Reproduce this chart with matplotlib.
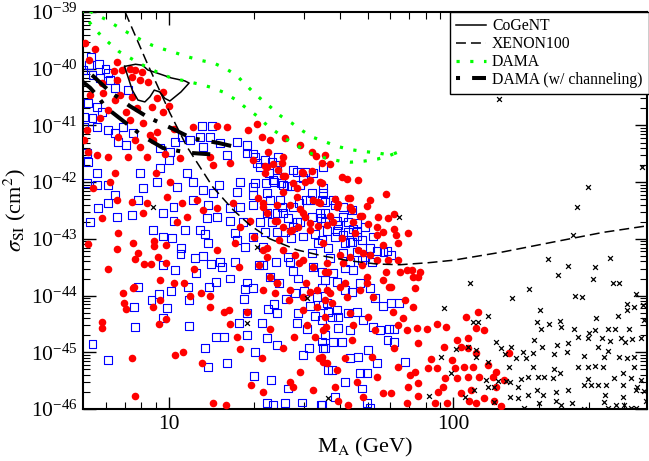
import matplotlib
matplotlib.use('Agg')
import numpy as np
import matplotlib.pyplot as plt
from matplotlib import ticker

plt.rcParams['font.family'] = 'serif'
plt.rcParams['font.serif'] = ['Liberation Serif', 'DejaVu Serif']
plt.rcParams['mathtext.fontset'] = 'stix'

# (mass GeV, sigma_SI cm^2)
red_points = [
    (5.1, 2.8e-40), (5.5, 2.2e-40), (5.25, 1.4e-40), (6.6, 1.3e-40), (6.4, 9.1e-41), (6.85, 9.5e-41),
    (7.3, 1.0e-40), (7.6, 9.5e-41), (8.05, 8.7e-41), (7.45, 7.1e-41), (7.95, 6.3e-41), (8.45, 5.8e-41),
    (9.55, 3.9e-41), (6.6, 6.3e-41), (5.85, 5.6e-41), (5.3, 3.4e-41), (5.9, 3.7e-41), (6.5, 2.8e-41),
    (6.75, 3.4e-41), (7.45, 3.2e-41), (9.1, 3.1e-41), (8.75, 2.1e-41), (9.55, 1.7e-41), (10, 2.2e-41),
    (6.1, 1.9e-41), (5.75, 1.35e-41), (7.1, 1.7e-41), (7.75, 2.0e-41), (7.3, 1.25e-41), (8.1, 1.1e-41),
    (9.1, 7.6e-42), (8.6, 6.8e-42), (8.8, 5.5e-42), (10.4, 8.6e-42), (12.2, 9.4e-42), (14.8, 9.8e-42),
    (16.0, 9.4e-42), (20.5, 1.06e-41), (19.0, 8.3e-42), (21.3, 6.2e-42), (22.7, 5.5e-42), (25.6, 6.0e-42),
    (29.0, 4.5e-42), (31.9, 3.4e-42), (35.4, 3.0e-42), (5.15, 8.3e-42), (5.05, 5.5e-42), (5.2, 3.4e-42),
    (5.6, 3.0e-42), (6.1, 2.8e-42), (6.65, 6.2e-42), (7.6, 5.5e-42), (7.95, 4.2e-42), (7.2, 2.8e-42),
    (8.4, 2.8e-42), (9.7, 3.1e-42), (9.0, 1.45e-42), (11.0, 2.7e-42), (14.0, 2.8e-42), (14.3, 2.0e-42),
    (16.45, 2.2e-42), (19.8, 2.45e-42), (22.2, 1.85e-42), (25.0, 2.2e-42), (25.6, 1.3e-42), (29.4, 1.5e-42),
    (34.0, 1.0e-42), (6.5, 1.45e-42), (6.2, 1.0e-42), (32.9, 2.9e-42),
    (6.6, 4.8e-43), (5.4, 7.9e-43), (7.45, 4.5e-43), (8.1, 2.85e-43), (8.4, 4.3e-43), (10.1, 1.0e-42),
    (9.9, 5.5e-43), (11.1, 4.3e-43), (12.6, 4.8e-43), (11.6, 2.4e-43), (13.2, 3.2e-43), (14.8, 3.5e-43),
    (16.9, 4.3e-43), (19.3, 2.1e-43), (21.5, 3.6e-43), (24.0, 2.1e-43), (26.7, 1.4e-43), (29.6, 2.85e-43),
    (31.4, 1.9e-43), (34.0, 4.3e-43), (5.85, 2.3e-43), (10.7, 2.0e-43), (17.8, 1.6e-43),
    (5.2, 8.1e-44), (6.6, 6.6e-44), (6.65, 1.26e-43), (7.5, 8.4e-44), (7.6, 4.4e-44), (7.8, 5.6e-44),
    (8.2, 3.6e-44), (8.7, 3.6e-44), (8.9, 7.5e-44), (8.9, 9.1e-44), (9.8, 3.7e-44), (9.8, 7.8e-44),
    (9.2, 4.8e-44), (6.1, 2.9e-44), (6.9, 1.1e-44), (6.95, 7.4e-45), (7.1, 5.8e-45), (7.55, 1.4e-44),
    (5.85, 3.4e-45), (5.85, 2.7e-45), (9.3, 1.9e-44), (9.3, 8.3e-45), (9.25, 3.1e-45), (8.8, 6.3e-45),
    (9.8, 3.9e-45), (10.45, 1.65e-44), (10.5, 8.9e-46), (11.2, 1.0e-45), (11.3, 1.65e-44), (11.9, 1.0e-44),
    (12.3, 3.0e-44), (13.0, 1.1e-44), (13.1, 6.4e-46), (14.0, 1.0e-44), (14.0, 6.3e-45), (14.3, 1.27e-46),
    (14.8, 6.3e-44), (15.7, 5.1e-45), (15.9, 1.2e-46), (16.45, 3.1e-45), (16.3, 5.5e-45), (17.1, 8.4e-44),
    (17.4, 1.85e-45), (17.8, 1.14e-45), (17.7, 3.2e-44), (18.9, 5.1e-45), (19.5, 2.6e-46), (20.0, 1.1e-43),
    (20.8, 3.45e-44), (21.3, 7.9e-46), (21.5, 2.0e-46), (22.2, 6.9e-44), (22.2, 4.8e-44), (22.7, 2.6e-45),
    (23.6, 1.1e-44), (24.0, 1.7e-44), (24.4, 9.5e-44), (25.2, 1.2e-45), (26.7, 3.0e-46), (26.5, 8.3e-45),
    (27.3, 2.4e-46), (27.6, 1.85e-45), (27.8, 5.2e-44), (28.7, 3.7e-44), (29.0, 4.5e-46), (30.6, 3.0e-45),
    (29.6, 5.5e-45), (30.4, 1.65e-44), (31.4, 1.15e-44), (32.1, 2.15e-46), (32.7, 1.85e-45), (33.2, 6.3e-45),
    (33.7, 7.9e-46), (34.8, 6.7e-46), (35.4, 8.3e-45), (35.7, 2.8e-45), (36.3, 2.6e-44), (7.6, 1.7e-46),
    (7.45, 7.9e-46), (7.5, 1.35e-44),
    (34.8, 8.4e-44), (35.4, 2.6e-44), (36.0, 1.25e-44), (37.5, 7.4e-45), (35.4, 4.2e-45), (34.8, 2.45e-45),
    (34.6, 8.2e-46), (36.0, 6.4e-46), (39.0, 4.9e-46), (38.4, 2.4e-46), (39.3, 1.4e-46), (40.6, 1.03e-43),
    (40.0, 5.2e-44), (40.9, 3.7e-44), (41.6, 1.65e-44), (42.2, 9.4e-45), (43.3, 4.9e-45), (44.4, 3.0e-45),
    (44.0, 1.65e-45), (41.6, 7.9e-46), (45.8, 3.0e-46), (48.2, 1.6e-46), (42.6, 1.17e-46), (45.1, 1.26e-43),
    (46.2, 6.3e-44), (47.8, 3.45e-44), (49.8, 2.1e-44), (51.0, 5.2e-44), (52.3, 9.4e-45), (50.2, 4.2e-45),
    (53.2, 2.45e-45), (51.9, 8.2e-46), (54.1, 3.65e-46), (56.5, 1.9e-46), (54.1, 1.16e-43), (56.5, 7.8e-44),
    (58.8, 4.2e-44), (57.9, 2.6e-44), (59.3, 1.4e-44), (61.3, 5.1e-45), (63.9, 3.0e-45), (61.8, 1.2e-45),
    (63.9, 5.5e-46), (60.3, 1.9e-46), (62.8, 1.16e-43), (63.9, 8.4e-44), (65.0, 2.6e-44), (67.6, 8.3e-45),
    (66.6, 4.0e-45), (68.8, 2.45e-45), (70.4, 3.95e-46), (69.3, 2.4e-46), (68.8, 1.27e-46), (69.3, 1.26e-43),
    (71.6, 2.8e-44), (75.1, 2.1e-44), (76.3, 2.6e-44), (73.3, 1.35e-44), (72.2, 6.3e-45), (74.5, 2.7e-45),
    (75.1, 1.45e-45), (73.3, 4.5e-46), (75.1, 2.85e-46), (75.1, 1.7e-46),
    (81.1, 2.6e-45), (87.5, 3.1e-45), (94.3, 2.8e-45), (92.8, 1.23e-45), (83.8, 7.6e-46), (81.8, 5.3e-46),
    (87.5, 5.3e-46), (99.2, 7.3e-46), (101.7, 5.3e-46), (108.8, 5.5e-46), (112.4, 3.65e-46), (103.4, 3.5e-46),
    (93.5, 3.5e-46), (92.0, 2.4e-46), (88.2, 2.0e-46), (106.2, 1.9e-46), (115.2, 2.15e-46), (86.0, 1.27e-46),
    (95.1, 1.27e-46), (113.3, 1.4e-46), (119.9, 1.27e-46), (128.1, 1.55e-46), (139.0, 1.4e-46), (147.3, 1.13e-46),
    (141.3, 2.4e-46), (137.9, 3.65e-46), (122.9, 3.65e-46), (117.0, 5.5e-46), (119.9, 9.7e-46), (112.4, 1.2e-45),
    (106.2, 1.23e-45), (112.4, 1.8e-45), (119.9, 2.7e-45), (128.1, 2.45e-45), (121.9, 5.1e-45), (110.6, 4.2e-45),
    (103.4, 1.65e-45), (132.4, 5.9e-46), (141.3, 4.5e-46), (150.9, 3.2e-46), (157.1, 9.7e-46),
    (34.6, 2.2e-42), (36.9, 2.1e-42), (40.6, 1.23e-42), (42.2, 1.13e-42), (46.2, 1.1e-42), (34.6, 9.6e-43),
    (57.9, 6.2e-43), (43.3, 5.2e-43), (51.0, 4.8e-43), (49.8, 3.8e-43), (39.0, 3.7e-43), (43.3, 3.7e-43),
    (47.8, 2.5e-43), (54.6, 2.4e-43), (58.8, 2.3e-43), (61.8, 2.7e-43), (36.9, 2.5e-43), (37.8, 2.0e-43),
    (44.4, 2.0e-43), (50.2, 1.8e-43), (54.1, 1.6e-43), (56.9, 1.3e-43), (61.8, 1.5e-43),
    (22.3, 3.4e-42), (25.2, 2.8e-42), (21.8, 1.9e-42), (23.3, 2.1e-42), (21.8, 1.45e-42), (24.2, 1.65e-42),
    (25.2, 1.3e-42), (27.3, 9.6e-43), (29.6, 1.45e-42), (31.9, 1.55e-42), (30.1, 1.0e-42), (31.4, 1.08e-42),
    (25.2, 6.7e-43), (28.2, 7.9e-43), (28.2, 5.5e-43), (32.1, 4.8e-43), (33.5, 4.4e-43), (38.4, 5.0e-43),
    (39.3, 4.1e-43), (42.6, 5.2e-43), (44.0, 3.2e-43), (47.0, 2.5e-43), (20.6, 5.2e-43), (21.5, 4.3e-43),
    (22.2, 2.85e-43), (24.0, 3.9e-43), (26.7, 3.9e-43), (29.0, 3.3e-43), (30.1, 2.4e-43), (23.6, 2.1e-43),
    (25.2, 1.6e-43), (27.1, 1.45e-43), (28.5, 1.6e-43), (31.4, 1.45e-43), (33.5, 1.7e-43), (36.0, 1.75e-43),
    (21.5, 6.3e-44), (25.2, 6.3e-44), (29.6, 4.2e-44), (32.1, 3.2e-44), (36.0, 3.7e-44), (43.3, 4.8e-44),
    (48.2, 5.6e-44), (54.1, 4.2e-44), (63.9, 4.2e-44), (68.8, 2.8e-44), (72.2, 2.1e-44), (56.9, 1.9e-44),
    (60.3, 1.4e-44), (49.8, 1.65e-44), (47.0, 1.25e-44), (40.0, 1.4e-44), (36.9, 1.1e-44), (33.2, 1.25e-44),
    (29.6, 9.4e-45), (26.7, 1.25e-44), (24.0, 1.65e-44), (21.5, 1.25e-44), (22.7, 2.1e-44),
]

blue_points = [
    (5.35, 1.6e-40), (5.7, 1.2e-40), (6.0, 1.0e-40), (5.0, 9.5e-41), (5.25, 1.15e-40), (5.4, 7.7e-41),
    (5.75, 6.9e-41), (6.2, 6.3e-41), (6.1, 8.4e-41), (6.5, 4.6e-41), (7.2, 4.2e-41), (5.2, 2.5e-41),
    (5.6, 2.1e-41), (5.85, 1.7e-41), (5.05, 1.4e-41), (5.4, 1.35e-41), (5.05, 9.4e-42), (5.6, 9.4e-42),
    (6.1, 8.3e-42), (6.5, 7.3e-42), (6.9, 9.4e-42), (7.5, 7.3e-42), (6.65, 5.1e-42), (7.1, 4.5e-42),
    (5.15, 3.3e-42), (5.2, 2.25e-42), (5.6, 1.45e-42), (5.15, 9.6e-43), (5.6, 8.9e-43), (6.1, 8.9e-43),
    (6.5, 5.9e-43), (6.1, 4.3e-43), (5.65, 3.5e-43), (5.3, 2.0e-43), (6.6, 2.4e-43), (7.45, 2.6e-43),
    (7.8, 4.8e-43), (8.1, 7.9e-43), (9.1, 1.0e-42), (7.95, 1.45e-42), (9.3, 1.77e-42), (10, 2.45e-42),
    (10.1, 3.4e-42), (10.5, 5.1e-42), (9.3, 4.0e-42), (11.1, 6.2e-42), (11.9, 5.5e-42), (13.1, 9.8e-42),
    (14.2, 9.8e-42), (12.9, 6.2e-42), (14.0, 6.2e-42), (13.2, 4.2e-42), (15.2, 4.9e-42), (17.4, 5.1e-42),
    (18.9, 4.5e-42), (18.9, 3.2e-42), (16.0, 3.0e-42), (20.1, 2.8e-42), (21.0, 1.85e-42), (23.1, 2.25e-42),
    (24.2, 2.8e-42), (27.3, 1.64e-42), (32.1, 1.45e-42), (34.8, 1.85e-42), (29.0, 8.9e-43), (31.4, 4.8e-43),
    (34.6, 4.8e-43), (25.2, 8.9e-43), (23.3, 1.08e-42), (24.6, 4.8e-43), (22.2, 6.4e-43), (19.8, 8.2e-43),
    (17.8, 1.0e-42), (17.4, 6.7e-43), (15.0, 8.9e-43), (14.3, 6.4e-43), (13.2, 7.2e-43), (12.2, 1.0e-42),
    (11.6, 1.45e-42), (10.7, 8.2e-43), (12.2, 4.8e-43), (13.75, 3.9e-43), (16.45, 3.5e-43), (17.8, 3.6e-43),
    (19.8, 3.9e-43), (22.2, 2.85e-43), (23.1, 2.0e-43), (25.2, 2.85e-43), (27.3, 3.6e-43), (29.0, 2.0e-43),
    (31.9, 2.4e-43), (34.0, 2.85e-43), (35.4, 2.0e-43), (9.55, 2.85e-43), (10.4, 3.6e-43), (10.4, 2.1e-43),
    (13.65, 2.3e-43), (14.8, 2.4e-43), (16.45, 2.1e-43), (18.3, 2.0e-43), (24.0, 1.3e-43), (12.9, 1.45e-43),
    (11.4, 1.45e-43), (17.1, 1.26e-43), (8.8, 1.45e-43),
    (5.4, 1.4e-45), (6.1, 7.3e-46), (7.8, 1.4e-44), (7.55, 6.3e-45), (7.6, 2.8e-45), (8.7, 8.3e-45),
    (9.25, 1.06e-44), (9.55, 4.0e-45), (9.9, 6.0e-45), (9.55, 3.45e-44), (10.2, 1.2e-44), (9.55, 1.1e-43),
    (10.3, 1.05e-43), (11.05, 6.9e-44), (11.0, 5.4e-44), (10.5, 2.8e-44), (11.7, 1.4e-44), (11.8, 8.3e-45),
    (11.8, 2.9e-45), (12.4, 4.6e-44), (12.5, 2.5e-44), (13.4, 1.2e-43), (13.2, 5.0e-44), (13.4, 1.2e-45),
    (13.75, 8.4e-44), (13.9, 1.4e-44), (14.1, 3.6e-44), (13.75, 5.5e-46), (14.7, 1.75e-44), (14.7, 1.85e-45),
    (15.2, 3.9e-44), (15.4, 3.2e-44), (15.7, 1.85e-45), (16.0, 6.4e-46), (16.45, 2.0e-44), (17.1, 3.9e-44),
    (17.4, 9.5e-44), (17.7, 3.3e-45), (18.6, 7.2e-44), (18.6, 1.3e-44), (18.4, 8.7e-45), (18.9, 4.9e-45),
    (18.9, 2.0e-45), (18.9, 1.7e-44), (19.8, 1.35e-44), (20.0, 3.8e-46), (20.1, 1.0e-45), (20.8, 3.45e-44),
    (21.3, 3.3e-45), (21.5, 7.2e-44), (22.2, 1.8e-45), (22.2, 1.27e-46), (22.3, 5.8e-45), (22.9, 3.2e-46),
    (22.7, 2.1e-44), (23.3, 1.2e-46), (23.4, 7.1e-45), (23.8, 3.9e-44), (24.0, 4.9e-45), (24.0, 1.34e-45),
    (24.4, 1.65e-44), (25.6, 1.27e-46), (25.8, 8.7e-45), (26.3, 2.3e-46), (26.7, 3.9e-44), (26.9, 1.03e-43),
    (27.3, 2.7e-44), (27.8, 1.1e-44), (28.2, 3.3e-45), (28.5, 4.9e-45), (28.5, 2.0e-44), (29.4, 1.3e-46),
    (29.6, 8.9e-46), (29.9, 1.2e-44), (30.6, 2.6e-45), (31.1, 1.2e-45), (31.4, 6.5e-45), (31.9, 5.6e-44),
    (32.1, 3.2e-44), (32.7, 4.3e-45), (33.2, 9.4e-45), (33.5, 8.4e-44), (34.3, 1.2e-46), (34.6, 1.35e-44),
    (34.8, 6.8e-45), (35.4, 2.0e-45), (35.4, 1.2e-45), (36.3, 4.9e-46), (36.9, 4.6e-44), (36.3, 5.1e-45),
    (34.8, 7.9e-43), (34.8, 6.4e-43), (37.8, 4.8e-43), (38.4, 3.9e-43), (40.9, 3.6e-43), (44.0, 3.2e-43),
    (35.4, 2.85e-43), (40.9, 2.4e-43), (39.3, 1.75e-43), (42.6, 2.0e-43), (45.8, 1.9e-43), (49.0, 1.6e-43),
    (36.0, 1.4e-43), (42.6, 1.3e-43), (45.8, 1.3e-43), (52.3, 1.1e-43),
    (34.6, 9.5e-44), (36.3, 6.9e-44), (38.4, 1.07e-43), (41.6, 8.4e-44), (44.0, 8.7e-44), (47.8, 9.5e-44),
    (51.0, 6.9e-44), (40.9, 5.6e-44), (43.3, 3.9e-44), (45.8, 5.8e-44), (34.6, 2.6e-44), (37.8, 2.5e-44),
    (41.6, 3.0e-44), (44.4, 2.8e-44), (47.8, 4.2e-44), (51.9, 3.9e-44), (60.3, 5.2e-44), (56.9, 5.8e-44),
    (35.4, 1.9e-44), (39.0, 1.75e-44), (41.6, 1.25e-44), (44.0, 1.15e-44), (47.0, 1.65e-44), (51.0, 1.35e-44),
    (53.2, 9.0e-45), (56.5, 6.5e-45), (60.3, 7.4e-45), (64.4, 7.4e-45), (36.0, 7.4e-45), (39.0, 5.6e-45),
    (39.3, 4.2e-45), (42.6, 4.9e-45), (45.8, 5.1e-45), (48.2, 3.7e-45), (37.5, 4.1e-45), (34.6, 3.7e-45),
    (39.3, 2.7e-45), (43.3, 2.45e-45), (52.3, 2.8e-45), (55.5, 2.45e-45), (59.3, 2.6e-45), (61.8, 2.6e-45),
    (58.8, 1.65e-45), (61.8, 1.5e-45), (67.6, 6.7e-46), (34.6, 1.55e-45), (34.8, 1.2e-45), (37.8, 1.5e-45),
    (40.6, 1.5e-45), (43.3, 7.9e-46), (46.2, 8.2e-46), (50.2, 1.1e-45), (54.1, 6.4e-46), (37.5, 4.9e-46),
    (47.0, 4.3e-46), (49.8, 4.3e-46), (41.6, 3.0e-46), (47.8, 2.3e-46), (38.4, 1.6e-46), (49.8, 1.27e-46),
    (51.0, 1.05e-46), (34.6, 1.2e-46),
    (19.8, 3.2e-42), (20.5, 2.2e-42), (21.8, 2.45e-42), (24.0, 1.64e-42), (22.5, 1.45e-42), (20.1, 9.6e-43),
    (22.0, 9.6e-43), (23.4, 1.0e-42), (24.8, 9.6e-43), (26.0, 8.5e-43), (27.1, 8.5e-43), (28.2, 1.5e-42),
    (30.1, 1.5e-42), (29.6, 1.2e-42), (31.9, 6.4e-43), (35.4, 4.4e-43), (30.4, 4.8e-43), (28.7, 4.3e-43),
    (22.7, 4.8e-43), (19.8, 5.9e-43), (25.0, 3.6e-43), (24.0, 2.85e-43), (21.0, 2.0e-43), (26.3, 2.3e-43),
    (28.2, 2.0e-43), (34.3, 2.3e-43), (39.0, 2.1e-43), (27.3, 1.6e-43), (25.6, 1.3e-43), (21.8, 1.3e-43),
    (19.8, 1.07e-43), (29.6, 1.1e-43), (32.7, 1.2e-43), (39.0, 1.4e-43), (40.9, 1.17e-43), (44.4, 1.5e-43),
    (45.8, 1.1e-43), (43.3, 8.7e-44), (26.3, 4.8e-44), (21.5, 3.45e-44), (49.0, 4.8e-44), (54.1, 6.2e-44),
    (58.8, 6.2e-44),
]

black_points = [
    (8.8, 3.6e-43), (20.5, 7.2e-44), (18.8, 3.3e-45), (30.6, 9.1e-45), (36.3, 1.55e-46), (64.4, 2.4e-43),
    (144.8, 2.9e-41), (298, 8.2e-43), (272.6, 3.6e-43), (263.9, 1.16e-43), (462.8, 1.85e-42), (215.8, 4.5e-44),
    (253.5, 3.3e-44), (315.6, 3.2e-44), (356.6, 4.6e-44), (233.9, 2.3e-44), (310.5, 2.0e-44), (365.3, 1.65e-44),
    (383.5, 1.7e-44), (114.2, 1.65e-44), (184.8, 1.3e-44), (161.0, 9.0e-45), (268.2, 1.0e-44), (283.9, 9.4e-45),
    (440.6, 1.05e-44), (466.6, 6.9e-45), (92.8, 6.0e-45), (202.3, 5.5e-45), (132.4, 4.4e-45), (117.0, 3.45e-45),
    (121.9, 3.45e-45), (318.2, 4.0e-45), (380.4, 4.3e-45), (409.3, 5.5e-45), (433.4, 6.3e-45), (409.3, 7.1e-45),
    (470.4, 3.7e-45), (197.4, 3.45e-45), (217.5, 3.1e-45), (237.7, 3.5e-45), (203.9, 2.6e-45), (239.6, 2.8e-45),
    (266.0, 2.6e-45), (300.6, 2.2e-45), (315.6, 2.45e-45), (350.9, 2.6e-45), (371.3, 2.6e-45), (416.1, 2.6e-45),
    (141.3, 1.5e-45), (159.7, 1.23e-45), (147.3, 1.2e-45), (176.0, 1.0e-45), (192.5, 1.65e-45), (232.0, 1.35e-45),
    (253.5, 1.45e-45), (274.8, 1.85e-45), (298.2, 1.8e-45), (334.2, 1.8e-45), (356.6, 1.55e-45), (389.8, 1.8e-45),
    (402.7, 1.5e-45), (426.4, 1.75e-45), (459.0, 1.8e-45), (102.5, 1.15e-45), (112.4, 1.23e-45), (119.9, 1.1e-45),
    (152.2, 9.3e-46), (166.2, 7.9e-46), (180.4, 7.9e-46), (190.9, 9.7e-46), (205.6, 1.23e-45), (226.4, 9.3e-46),
    (251.5, 1.0e-45), (288.6, 8.6e-46), (323.4, 1.23e-45), (339.7, 8.2e-46), (350.9, 1.05e-45), (383.5, 8.2e-46),
    (409.3, 7.9e-46), (433.4, 8.2e-46), (90.5, 8.2e-46), (119.9, 8.2e-46), (132.4, 6.7e-46), (157.1, 5.5e-46),
    (190.9, 5.5e-46), (226.4, 5.1e-46), (237.7, 4.3e-46), (274.8, 5.5e-46), (298.2, 5.6e-46), (315.6, 5.8e-46),
    (336.9, 5.5e-46), (396.2, 4.3e-46), (433.4, 5.5e-46), (459.0, 3.3e-46), (98.4, 4.3e-46), (130.2, 3.2e-46),
    (143.6, 3.1e-46), (153.4, 3.1e-46), (158.4, 3.0e-46), (173.2, 3.4e-46), (183.3, 3.65e-46), (199.0, 3.65e-46),
    (208.9, 3.65e-46), (224.6, 3.5e-46), (288.6, 2.7e-46), (298.2, 3.4e-46), (305.5, 2.6e-46), (323.4, 2.6e-46),
    (345.2, 2.7e-46), (368.3, 3.5e-46), (396.2, 2.7e-46), (422.9, 3.5e-46), (444.2, 2.4e-46), (470.4, 2.1e-46),
    (132.4, 2.4e-46), (139.0, 2.4e-46), (168.9, 2.4e-46), (118.0, 2.15e-46), (82.4, 1.7e-46), (109.7, 1.6e-46),
    (158.4, 1.6e-46), (168.9, 1.55e-46), (183.3, 1.8e-46), (197.4, 2.15e-46), (206.6, 1.8e-46), (230.1, 2.0e-46),
    (253.5, 2.15e-46), (342.4, 1.8e-46), (396.2, 1.6e-46), (440.6, 2.15e-46), (478.1, 1.4e-46), (139.0, 1.33e-46),
    (200.6, 1.27e-46), (230.1, 1.4e-46), (239.6, 1.2e-46), (261.8, 1.27e-46), (339.7, 1.33e-46), (374.3, 1.2e-46),
    (399.4, 1.2e-46), (177.5, 1.05e-46), (288.6, 1.0e-46), (350.9, 1.04e-46), (422.9, 1.04e-46), (440.6, 1.04e-46),
]

cogent_mass = [7.0, 7.65, 8.1, 8.45, 9.3, 10.2, 11.4, 11.8, 11.05, 10.1, 9.7, 9.3, 8.9, 8.6, 8.25, 7.8, 7.45, 7.2, 7.0]
cogent_sigma = [1.1e-40, 1.2e-40, 1.15e-40, 9.5e-41, 8.1e-41, 6.9e-41, 6.1e-41, 5.6e-41, 3.9e-41, 2.7e-41,
                3.0e-41, 3.9e-41, 4.2e-41, 3.2e-41, 2.6e-41, 2.8e-41, 4.2e-41, 7.1e-41, 1.1e-40]

xenon_mass = [6.5, 7.03, 8.4, 10.1, 11.6, 14.3, 16.9, 19.3, 22.7, 28.2, 34.8, 43.3, 54, 65, 82, 100, 150, 225, 336, 481, 520]
xenon_sigma = [2.4e-39, 1.0e-39, 1.26e-40, 1.66e-41, 4.2e-42, 8.2e-43, 3.2e-43, 1.75e-43, 1.0e-43, 6.4e-44, 5.0e-44,
               4.1e-44, 3.6e-44, 3.5e-44, 3.8e-44, 4.2e-44, 5.9e-44, 8.8e-44, 1.3e-43, 1.7e-43, 1.8e-43]

dama_mass = [4.81, 5.43, 5.98, 6.54, 7.2, 7.94, 8.74, 9.64, 10.6, 11.8, 13.0, 14.4, 15.9, 17.3, 18.4, 19.8, 21.3,
             23.1, 24.8, 27.1, 29.6, 32.1, 35.7, 39.0, 43.0, 47.8, 53.7, 60.3, 65.0, 59.3, 54.1, 48.6, 43.6, 40.0,
             35.7, 32.1, 29.2, 26.5, 24.2, 22.2, 20.5, 18.8, 17.1, 15.5, 14.0, 12.7, 11.4, 10.2, 9.25, 8.0, 6.7,
             6.2, 5.8, 5.43, 5.1, 4.85]
dama_sigma = [1.38e-39, 9.6e-40, 7.5e-40, 5.7e-40, 4.3e-40, 3.3e-40, 2.6e-40, 2.2e-40, 1.9e-40, 1.6e-40, 1.4e-40,
              1.26e-40, 1.0e-40, 7.7e-41, 5.6e-41, 3.9e-41, 2.8e-41, 2.0e-41, 1.46e-41, 1.1e-41, 8.0e-42, 6.2e-42,
              5.1e-42, 4.3e-42, 3.8e-42, 3.5e-42, 3.3e-42, 3.0e-42, 3.5e-42, 2.9e-42, 2.55e-42, 2.35e-42, 2.25e-42,
              2.35e-42, 2.65e-42, 3.1e-42, 4.0e-42, 5.3e-42, 7.3e-42, 1.0e-41, 1.46e-41, 2.0e-41, 2.9e-41, 3.9e-41,
              4.75e-41, 5.4e-41, 6.1e-41, 6.9e-41, 8.4e-41, 1.2e-40, 2.0e-40, 2.8e-40, 3.8e-40, 5.4e-40, 8.2e-40,
              1.13e-39]

chan_up_mass = [4.85, 5.43, 6.2, 7.3, 8.45, 10.4, 12.0, 15.0, 17.8]
chan_up_sigma = [1.16e-40, 7.4e-41, 4.0e-41, 2.2e-41, 1.4e-41, 8.6e-42, 6.0e-42, 4.9e-42, 4.0e-42]
chan_lo_mass = [4.85, 5.3, 5.65, 6.0, 7.0, 8.1, 9.55, 11.7, 14.0]
chan_lo_sigma = [6.6e-41, 4.6e-41, 3.2e-41, 2.1e-41, 1.15e-41, 6.5e-42, 4.0e-42, 3.3e-42, 3.1e-42]

y_decades = [1e-46, 1e-45, 1e-44, 1e-43, 1e-42, 1e-41, 1e-40, 1e-39]

fig = plt.figure(figsize=(6.49, 4.61), dpi=100)
ax = fig.add_axes([0.1279, 0.1128, 0.8690, 0.8611])

bm, bs = zip(*blue_points)
rm, rs = zip(*red_points)
km, ks = zip(*black_points)
ax.scatter(bm, bs, s=32, marker='s', facecolors='none', edgecolors='#0000ff', linewidths=0.8, zorder=2)
ax.scatter(rm, rs, s=30, marker='o', color='#ff0000', linewidths=0, zorder=3)
ax.scatter(km, ks, s=12, marker='x', color='black', linewidths=0.9, zorder=3)

ax.plot(cogent_mass, cogent_sigma, color='black', lw=1.1, zorder=5, label='CoGeNT')
ax.plot(xenon_mass, xenon_sigma, color='black', lw=1.1, ls=(0, (6.5, 3.3)), zorder=5, label='XENON100')
ax.plot(dama_mass, dama_sigma, color='#00ff00', lw=2.3, ls=(0, (1, 3.3)), zorder=5, label='DAMA')
ax.plot(chan_up_mass, chan_up_sigma, color='black', lw=2.9, ls=(7.5, (5, 2.5, 1, 3)), zorder=5,
        label='DAMA (w/ channeling)')
ax.plot(chan_lo_mass, chan_lo_sigma, color='black', lw=2.9, ls=(0, (5, 2.5, 1, 3)), zorder=5)

ax.set_xscale('log')
ax.set_yscale('log')
ax.set_xlim(5, 480)
ax.set_ylim(1e-46, 1e-39)

ax.set_xticks([10, 100])
ax.set_xticklabels(['10', '100'])
ax.xaxis.set_minor_locator(ticker.FixedLocator([6, 7, 8, 9, 20, 30, 40, 50, 60, 70, 80, 90, 200, 300, 400]))
ax.xaxis.set_minor_formatter(ticker.NullFormatter())
ax.set_yticks(y_decades)
ax.yaxis.set_major_formatter(ticker.LogFormatterSciNotation())
ax.yaxis.set_minor_locator(ticker.LogLocator(base=10, subs=np.arange(2, 10), numticks=20))
ax.yaxis.set_minor_formatter(ticker.NullFormatter())
ax.tick_params(which='both', direction='in', top=True, right=True)
ax.tick_params(which='major', length=9, width=1.0, labelsize=15.5, pad=4)
ax.tick_params(which='minor', length=5, width=0.8)
for sp in ax.spines.values():
    sp.set_linewidth(1.5)

ax.set_xlabel(r'M$_{\rm A}$ (GeV)', fontsize=16, labelpad=2)
ax.set_ylabel(r'$\sigma_{\rm SI}$ (cm$^2$)', fontsize=16, labelpad=2)

leg = ax.legend(loc='upper right', bbox_to_anchor=(1.003, 1.0), borderaxespad=0, fancybox=False,
                edgecolor='black', framealpha=1, fontsize=11.3, handlelength=1.9, handletextpad=0.4,
                labelspacing=0.12, borderpad=0.4)
leg.get_frame().set_linewidth(1.0)
leg.set_zorder(10)

fig.savefig('out.png', dpi=100)
